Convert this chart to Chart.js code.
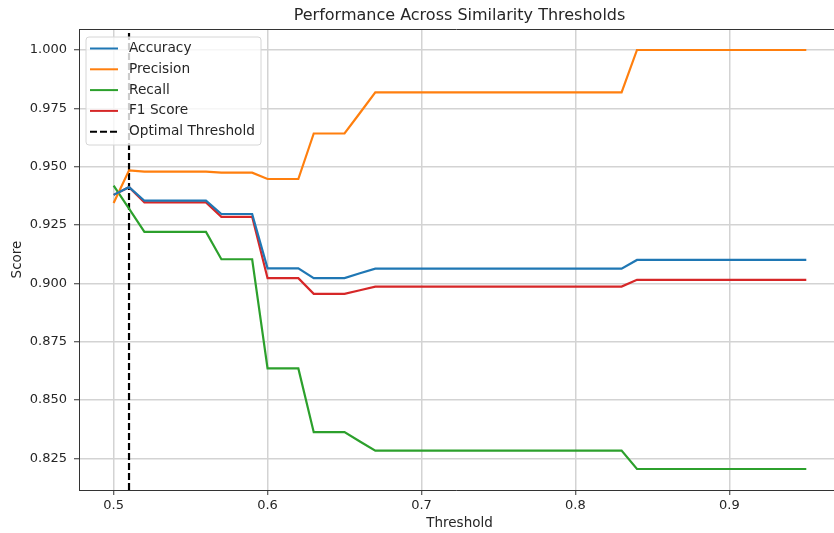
<!DOCTYPE html>
<html>
<head>
<meta charset="utf-8">
<script src="https://cdn.jsdelivr.net/npm/chart.js@4"></script>
<style>
  html, body { margin: 0; padding: 0; background: #fff; }
  #wrap { width: 834px; height: 533px; }
</style>
</head>
<body>
<div id="wrap"><canvas id="myChart" width="834" height="533"></canvas></div>
<script>
const thresholds = [0.50, 0.51, 0.52, 0.53, 0.54, 0.55, 0.56, 0.57, 0.58, 0.59,
  0.60, 0.61, 0.62, 0.63, 0.64, 0.65, 0.66, 0.67, 0.68, 0.69,
  0.70, 0.71, 0.72, 0.73, 0.74, 0.75, 0.76, 0.77, 0.78, 0.79,
  0.80, 0.81, 0.82, 0.83, 0.84, 0.85, 0.86, 0.87, 0.88, 0.89,
  0.90, 0.91, 0.92, 0.93, 0.94, 0.95];

const accuracy = [0.9379, 0.9412, 0.9354, 0.9354, 0.9354, 0.9354, 0.9354, 0.9297, 0.9297, 0.9297,
  0.9064, 0.9064, 0.9064, 0.9022, 0.9022, 0.9022, 0.9043, 0.9063, 0.9063, 0.9063,
  0.9063, 0.9063, 0.9063, 0.9063, 0.9063, 0.9063, 0.9063, 0.9063, 0.9063, 0.9063,
  0.9063, 0.9063, 0.9063, 0.9063, 0.9100, 0.9100, 0.9100, 0.9100, 0.9100, 0.9100,
  0.9100, 0.9100, 0.9100, 0.9100, 0.9100, 0.9100];

const precision = [0.9344, 0.9484, 0.9479, 0.9479, 0.9479, 0.9479, 0.9479, 0.9474, 0.9474, 0.9474,
  0.9447, 0.9447, 0.9447, 0.9642, 0.9642, 0.9642, 0.9730, 0.9818, 0.9818, 0.9818,
  0.9818, 0.9818, 0.9818, 0.9818, 0.9818, 0.9818, 0.9818, 0.9818, 0.9818, 0.9818,
  0.9818, 0.9818, 0.9818, 0.9818, 1.0000, 1.0000, 1.0000, 1.0000, 1.0000, 1.0000,
  1.0000, 1.0000, 1.0000, 1.0000, 1.0000, 1.0000];

const recall = [0.9419, 0.9320, 0.9220, 0.9220, 0.9220, 0.9220, 0.9220, 0.9103, 0.9103, 0.9103,
  0.8635, 0.8635, 0.8635, 0.8362, 0.8362, 0.8362, 0.8322, 0.8283, 0.8283, 0.8283,
  0.8283, 0.8283, 0.8283, 0.8283, 0.8283, 0.8283, 0.8283, 0.8283, 0.8283, 0.8283,
  0.8283, 0.8283, 0.8283, 0.8283, 0.8204, 0.8204, 0.8204, 0.8204, 0.8204, 0.8204,
  0.8204, 0.8204, 0.8204, 0.8204, 0.8204, 0.8204];

const f1 = [0.9379, 0.9412, 0.9347, 0.9347, 0.9347, 0.9347, 0.9347, 0.9285, 0.9285, 0.9285,
  0.9022, 0.9022, 0.9022, 0.8955, 0.8955, 0.8955, 0.8970, 0.8986, 0.8986, 0.8986,
  0.8986, 0.8986, 0.8986, 0.8986, 0.8986, 0.8986, 0.8986, 0.8986, 0.8986, 0.8986,
  0.8986, 0.8986, 0.8986, 0.8986, 0.9015, 0.9015, 0.9015, 0.9015, 0.9015, 0.9015,
  0.9015, 0.9015, 0.9015, 0.9015, 0.9015, 0.9015];

const optimalThreshold = 0.51;

const xTicks = [0.5, 0.6, 0.7, 0.8, 0.9];
const yTicks = [0.825, 0.850, 0.875, 0.900, 0.925, 0.950, 0.975, 1.000];

const xMin = 0.4775, xMax = 0.968;
const yMin = 0.8114, yMax = 1.009;

Chart.defaults.font.family = "'DejaVu Sans', sans-serif";
Chart.defaults.font.size = 13;
Chart.defaults.color = '#262626';

const pts = arr => thresholds.map((t, i) => ({ x: t, y: arr[i] }));

const series = [
  { label: 'Accuracy', data: pts(accuracy), borderColor: '#1f77b4' },
  { label: 'Precision', data: pts(precision), borderColor: '#ff7f0e' },
  { label: 'Recall', data: pts(recall), borderColor: '#2ca02c' },
  { label: 'F1 Score', data: pts(f1), borderColor: '#d62728' },
  { label: 'Optimal Threshold', data: [{ x: optimalThreshold, y: yMin }, { x: optimalThreshold, y: yMax }],
    borderColor: '#000', borderDash: [7, 3] }
];

// text, frame and legend drawn inside the plot like matplotlib does
const extras = {
  id: 'extras',
  afterDraw(chart) {
    const c = chart.ctx, a = chart.chartArea;
    c.save();
    c.strokeStyle = '#333';
    c.lineWidth = 1;
    c.beginPath();
    c.moveTo(a.left, a.top + 0.5);
    c.lineTo(a.right, a.top + 0.5);
    c.stroke();

    c.fillStyle = '#262626';
    c.textAlign = 'center';
    c.textBaseline = 'middle';
    c.font = "16px 'DejaVu Sans'";
    c.fillText('Performance Across Similarity Thresholds', 459.5, 16);
    c.font = "13.5px 'DejaVu Sans'";
    c.fillText('Threshold', 459.5, 523);
    c.save();
    c.translate(17, (a.top + a.bottom) / 2);
    c.rotate(-Math.PI / 2);
    c.fillText('Score', 0, 0);
    c.restore();

    // legend box
    const bx = 86, by = 37, bw = 175, bh = 108, r = 3;
    c.beginPath();
    c.moveTo(bx + r, by);
    c.arcTo(bx + bw, by, bx + bw, by + bh, r);
    c.arcTo(bx + bw, by + bh, bx, by + bh, r);
    c.arcTo(bx, by + bh, bx, by, r);
    c.arcTo(bx, by, bx + bw, by, r);
    c.closePath();
    c.fillStyle = 'rgba(255,255,255,0.8)';
    c.fill();
    c.strokeStyle = '#d6d6d6';
    c.stroke();

    c.textAlign = 'left';
    c.font = "13.7px 'DejaVu Sans'";
    chart.data.datasets.forEach((ds, i) => {
      const y = 48.5 + i * 20.8;
      c.strokeStyle = ds.borderColor;
      c.lineWidth = 2;
      c.setLineDash(ds.borderDash || []);
      c.beginPath();
      c.moveTo(90, y);
      c.lineTo(118, y);
      c.stroke();
      c.setLineDash([]);
      c.fillStyle = '#262626';
      c.fillText(ds.label, 129, y);
    });
    c.restore();
  }
};

const ctx = document.getElementById('myChart').getContext('2d');
const myChart = new Chart(ctx, {
  type: 'line',
  data: { datasets: series },
  options: {
    responsive: false,
    animation: false,
    layout: { padding: { top: 29, left: 0, right: 0, bottom: 0 } },
    elements: {
      point: { radius: 0 },
      line: { borderWidth: 2.2, tension: 0 }
    },
    plugins: {
      legend: { display: false },
      tooltip: { enabled: false },
      title: { display: false }
    },
    scales: {
      x: {
        type: 'linear',
        min: xMin,
        max: xMax,
        afterBuildTicks: axis => { axis.ticks = xTicks.map(v => ({ value: v })); },
        afterFit: axis => { axis.height = 43; },
        ticks: { padding: 3, callback: v => v.toFixed(1) },
        grid: { color: '#d3d3d3', lineWidth: 1.5, tickLength: 5, tickColor: '#333', tickWidth: 1 },
        border: { color: '#333', width: 1 }
      },
      y: {
        min: yMin,
        max: yMax,
        afterBuildTicks: axis => { axis.ticks = yTicks.map(v => ({ value: v })); },
        afterFit: axis => { axis.width = 79; },
        ticks: { padding: 7, callback: v => v.toFixed(3) },
        grid: { color: '#d3d3d3', lineWidth: 1.5, tickLength: 5, tickColor: '#333', tickWidth: 1 },
        border: { color: '#333', width: 1 }
      }
    }
  },
  plugins: [extras]
});
</script>
</body>
</html>
